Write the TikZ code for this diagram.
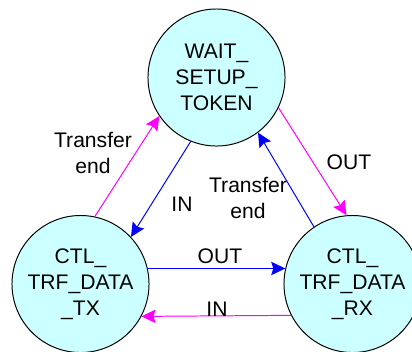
\documentclass[tikz,border=0pt]{standalone}
\usepackage{fontspec}
\setmainfont{Liberation Sans}
\usetikzlibrary{arrows.meta}
\definecolor{statefill}{RGB}{204,255,255}
\definecolor{magline}{RGB}{255,0,255}
\definecolor{blueline}{RGB}{0,0,255}
\tikzset{
  state/.style={circle, draw=black, line width=0.7pt, fill=statefill, minimum size=3.425cm, inner sep=0pt, align=center, font=\fontsize{15}{18.5}\selectfont},
  lbl/.style={align=center, inner sep=0pt, font=\fontsize{15}{18.5}\selectfont},
  tomag/.style={draw=magline, line width=0.7pt, -{Stealth[length=10pt,width=9.5pt,inset=1.5pt]}, magline},
  toblue/.style={draw=blueline, line width=0.7pt, -{Stealth[length=10pt,width=9.5pt,inset=1.5pt]}, blueline}
}

\begin{document}
\begin{tikzpicture}[x=0.025cm, y=-0.025cm]
			%%%%% START %%%%%
			\clip (0, 0) rectangle (412, 351);
			
			\node[state] (tok) at (216.5, 77.5) {WAIT\_\\SETUP\_\\TOKEN};
			\node[state] (tx) at (80.5, 284) {CTL\_\\TRF\_DATA\\\_TX};
			\node[state] (rx) at (352.5, 284) {CTL\_\\TRF\_DATA\\\_RX};
			
			\draw[tomag] (tx.78) -- (tok.214);
			\draw[toblue] (tok.248) -- (tx.43);
			\draw[tomag] (tok.334) -- (rx.95);
			\draw[toblue] (rx.124) -- (tok.307);
			\draw[toblue] (tx.13) -- (rx.167);
			\draw[tomag] (rx.207.5) -- (tx.332.5);
			
			\node[lbl] (endtx) at (93, 153) {Transfer\\end};
			\node[lbl] (intok) at (182, 204) {IN};
			\node[lbl] (endrx) at (248, 198) {Transfer\\end};
			\node[lbl] (outtok) at (349, 162) {OUT};
			\node[lbl] (outtx) at (220, 256) {OUT};
			\node[lbl] (inrx) at (217, 309) {IN};
			%%%%% END %%%%%
		\end{tikzpicture}
\end{document}
